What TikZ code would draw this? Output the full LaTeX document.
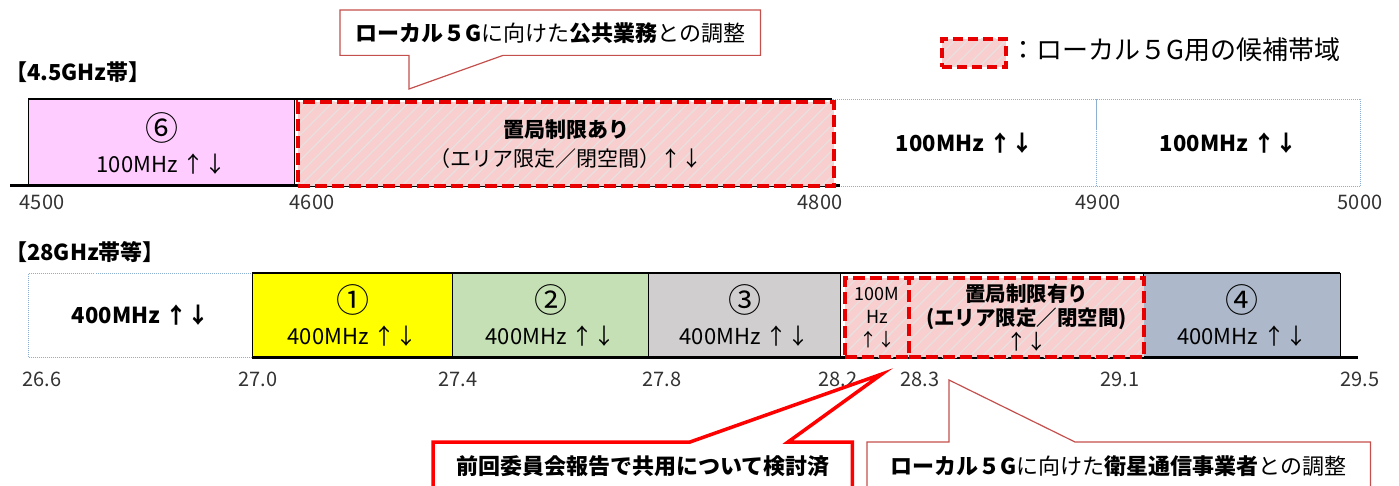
\documentclass[tikz,border=0pt]{standalone}
\usepackage{fontspec}
\setmainfont{Noto Sans CJK JP}
\usetikzlibrary{patterns.meta}

\definecolor{bandpink}{RGB}{255,204,255}
\definecolor{candfill}{RGB}{248,206,206}
\definecolor{hatch}{RGB}{234,222,222}
\definecolor{candred}{RGB}{232,0,0}
\definecolor{dotblue}{RGB}{140,175,210}
\definecolor{chyellow}{RGB}{255,255,0}
\definecolor{chgreen}{RGB}{197,224,180}
\definecolor{chgray}{RGB}{208,206,206}
\definecolor{chblue}{RGB}{173,185,202}
\definecolor{calloutred}{RGB}{196,80,77}

\newcommand{\fs}[2]{\fontsize{#1}{#2}\selectfont}
\newcommand{\cnum}[1]{{\fs{33}{32}#1}}

\tikzset{
every picture/.style={line join=miter},
fbox/.style={draw=black, line width=1.2pt, anchor=north west, inner sep=0pt, align=center, font=\fs{22}{32}},
free/.style={draw=dotblue, densely dotted, line width=1pt, anchor=north west, inner sep=0pt, align=center, font=\fs{22}{30}\bfseries},
cand/.style={preaction={fill=candfill}, pattern={Lines[angle=45,distance=9pt,line width=1.5pt]}, pattern color=hatch,
  draw=candred, line width=4pt, dash pattern=on 12pt off 5pt, anchor=north west, inner sep=0pt, align=center},
tick/.style={font=\fs{20}{24}, text=black!80, inner sep=0pt},
head/.style={font=\fs{22}{26}\bfseries, anchor=west, inner sep=0pt},
callthin/.style={draw=calloutred, line width=1.2pt, fill=white},
callthick/.style={draw=red, line width=3.5pt, fill=white}
}

\begin{document}
\begin{tikzpicture}[x=1pt, y=-1pt]
  \useasboundingbox[fill=white] (0,0) rectangle (1399,486);

  % 4.5GHz band
  \node[head] (h45) at (5,72) {【4.5GHz帯】};
  \node[fbox, fill=bandpink, minimum width=266pt, minimum height=87pt] (b6) at (28,99) {\cnum{⑥}\\100MHz ↑↓};
  \node[free, minimum width=264pt, minimum height=87pt] (b48) at (832,99) {100MHz ↑↓};
  \node[free, minimum width=264pt, minimum height=87pt] (b49) at (1096,99) {100MHz ↑↓};
  \draw[line width=1.5pt] (28,99) -- (832,99);
  \draw[line width=3pt] (10,186) -- (840,186);
  \node[cand, minimum width=536pt, minimum height=84pt, font=\fs{21}{29}] (c46) at (296,100)
    {{\bfseries 置局制限あり}\\（エリア限定／閉空間）↑↓};
  \foreach \x/\t [count=\i] in {42/4500, 312/4600, 820/4800, 1098/4900, 1360/5000}
    \node[tick] (ta\i) at (\x,202) {\t};

  % 28GHz band
  \node[head] (h28) at (5,252) {【28GHz帯等】};
  \node[free, minimum width=224pt, minimum height=84pt] (b26) at (28,273) {400MHz ↑↓};
  \node[fbox, fill=chyellow, minimum width=200pt, minimum height=84pt] (b1) at (252,273) {\cnum{①}\\400MHz ↑↓};
  \node[fbox, fill=chgreen, minimum width=196pt, minimum height=84pt] (b2) at (452,273) {\cnum{②}\\400MHz ↑↓};
  \node[fbox, fill=chgray, minimum width=192pt, minimum height=84pt] (b3) at (648,273) {\cnum{③}\\400MHz ↑↓};
  \node[fbox, fill=chblue, minimum width=197pt, minimum height=84pt] (b4) at (1143,273) {\cnum{④}\\400MHz ↑↓};
  \draw[line width=1.5pt] (252,273) -- (1340,273);
  \draw[line width=3pt] (252,357) -- (1358,357);
  \node[cand, minimum width=64pt, minimum height=79pt, font=\fs{18}{23}] (c282) at (843,276) {100M\\Hz\\↑↓};
  \node[cand, minimum width=235pt, minimum height=79pt, font=\fs{20.5}{24}] (c283) at (907,276)
    {{\bfseries 置局制限有り}\\{\bfseries (エリア限定／閉空間)}\\↑↓};
  \foreach \x/\t [count=\i] in {42/26.6, 258/27.0, 458/27.4, 662/27.8, 838/28.2, 920/28.3, 1120/29.1, 1360/29.5}
    \node[tick] (tb\i) at (\x,379) {\t};

  % legend
  \node[cand, minimum width=64pt, minimum height=28pt, dash pattern=on 10pt off 5pt] (leg) at (940,37) {};
  \node[font=\fs{26}{30}, anchor=west, inner sep=0pt] (legt) at (1010,50) {：ローカル５G用の候補帯域};

  % callouts
  \node[minimum width=420pt, minimum height=45pt, anchor=north west, inner sep=0pt] (co1) at (340,10) {};
  \coordinate (tip1) at (409,89);
  \draw[callthin] (co1.south west) -- (co1.north west) -- (co1.north east) -- (co1.south east)
    -- ([xshift=163pt]co1.south west) -- (tip1) -- ([xshift=69pt]co1.south west) -- cycle;
  \node[font=\fs{22}{26}] (co1t) at (co1) {{\bfseries ローカル５G}に向けた{\bfseries 公共業務}との調整};

  \node[minimum width=419pt, minimum height=48pt, anchor=north west, inner sep=0pt] (co3) at (433,442) {};
  \coordinate (tip3) at (882,374);
  \draw[callthick] (co3.south west) -- (co3.north west) -- ([xshift=257pt]co3.north west) -- (tip3)
    -- ([xshift=355pt]co3.north west) -- (co3.north east) -- (co3.south east);
  \node[font=\fs{22}{26}\bfseries] (co3t) at (co3) {前回委員会報告で共用について検討済};

  \node[minimum width=503pt, minimum height=48pt, anchor=north west, inner sep=0pt] (co4) at (867,442) {};
  \coordinate (tip4) at (949,380);
  \draw[callthin] (co4.south west) -- (co4.north west) -- ([xshift=82pt]co4.north west) -- (tip4)
    -- ([xshift=208pt]co4.north west) -- (co4.north east) -- (co4.south east);
  \node[font=\fs{22}{26}] (co4t) at (co4) {{\bfseries ローカル５G}に向けた{\bfseries 衛星通信事業者}との調整};
\end{tikzpicture}
\end{document}
